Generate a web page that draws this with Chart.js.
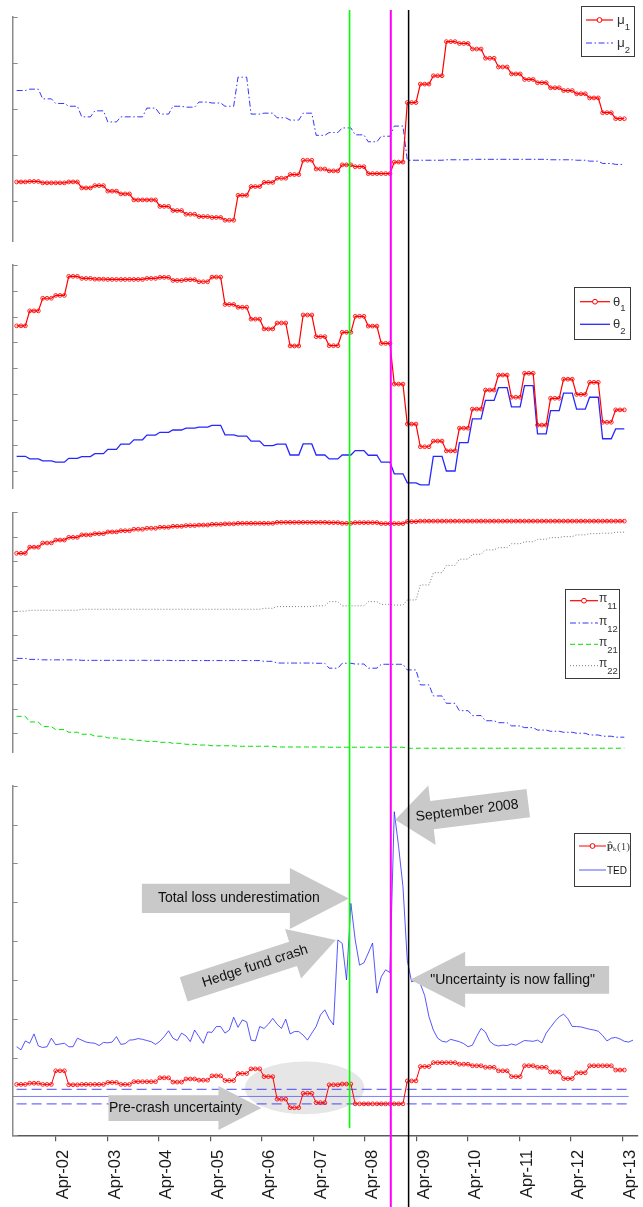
<!DOCTYPE html>
<html>
<head>
<meta charset="utf-8">
<script src="https://cdn.jsdelivr.net/npm/chart.js@4.4.1/dist/chart.umd.min.js"></script>
<style>
  html, body { margin: 0; padding: 0; background: #fff; }
  #wrap { position: relative; width: 643px; height: 1207px; overflow: hidden; background: #fff; }
  #wrap canvas { position: absolute; left: 0; }
</style>
</head>
<body>
<div id="wrap">
  <canvas id="c1" width="643" height="252" style="top:0px"></canvas>
  <canvas id="c2" width="643" height="246" style="top:252px"></canvas>
  <canvas id="c3" width="643" height="270" style="top:498px"></canvas>
  <canvas id="c4" width="643" height="439" style="top:768px"></canvas>
</div>
<script>
// ---------------- data (observation index on x) ----------------
const tickLabels = ['Apr-02','Apr-03','Apr-04','Apr-05','Apr-06','Apr-07','Apr-08','Apr-09','Apr-10','Apr-11','Apr-12','Apr-13'];
const tickPos = [8.98, 20.85, 32.72, 44.60, 56.47, 68.34, 80.21, 92.08, 103.96, 115.83, 127.70, 139.57];
// event markers: total loss underestimation, September 2008, uncertainty falling
const eventPos = [76.7, 86.2, 90.3];

const mu1 = [
  0.42,0.42,0.42, 0.43,0.43,0.43, 0.40,0.40,0.40, 0.40,0.40,0.40, 0.42,0.42,0.42, 0.29,0.29,0.29, 0.34,0.34,0.34, 0.22,0.22,0.22, 0.16,0.16,0.16, 0.03,0.03,0.03,
  0.03,0.03,0.03, -0.11,-0.11,-0.11, -0.20,-0.20,-0.20, -0.28,-0.28,-0.28, -0.33,-0.33,-0.33, -0.35,-0.35,-0.35, -0.41,-0.41,-0.41, 0.13,0.13,0.13, 0.32,0.32,0.32, 0.41,0.41,0.41,
  0.50,0.50,0.50, 0.58,0.58,0.58, 0.89,0.89,0.89, 0.70,0.70,0.70, 0.66,0.66,0.66, 0.79,0.79,0.79, 0.75,0.75,0.75, 0.60,0.60,0.60, 0.60,0.60,0.60, 0.85,0.85,0.85,
  2.14,2.14,2.14, 2.54,2.54,2.54, 2.72,2.72,2.72, 3.46,3.46,3.46, 3.42,3.42,3.42, 3.30,3.30,3.30, 3.10,3.10,3.10, 2.91,2.91,2.91, 2.76,2.76,2.76, 2.64,2.64,2.64,
  2.57,2.57,2.57, 2.46,2.46,2.46, 2.40,2.40,2.40, 2.33,2.33,2.33, 2.24,2.24,2.24, 1.92,1.92,1.92, 1.79,1.79,1.79
];
const mu2 = [
  2.40,2.40,2.40, 2.43,2.43,2.43, 2.22,2.22,2.22, 2.12,2.12,2.12, 2.06,2.06,2.06, 1.83,1.83,1.83, 1.96,1.96,1.96, 1.72,1.72,1.72, 1.83,1.83,1.83, 1.83,1.83,1.83,
  2.02,2.02,2.02, 1.89,1.89,1.89, 2.06,2.06,2.06, 2.04,2.04,2.04, 2.15,2.15,2.15, 2.13,2.13,2.13, 2.06,2.06,2.06, 2.69,2.69,2.69, 1.89,1.89,1.89, 1.91,1.91,1.91,
  1.81,1.81,1.81, 1.76,1.76,1.76, 1.91,1.91,1.91, 1.43,1.43,1.43, 1.49,1.49,1.49, 1.59,1.59,1.59, 1.44,1.44,1.44, 1.29,1.29,1.29, 1.41,1.41,1.41, 1.63,1.63,1.63,
  0.89,0.89,0.89, 0.89,0.89,0.89, 0.89,0.89,0.89, 0.90,0.90,0.90, 0.90,0.90,0.90, 0.91,0.91,0.91, 0.91,0.91,0.91, 0.91,0.91,0.91, 0.91,0.91,0.91, 0.91,0.91,0.91,
  0.91,0.91,0.91, 0.90,0.90,0.90, 0.90,0.90,0.90, 0.89,0.89,0.89, 0.87,0.87,0.87, 0.82,0.82,0.82, 0.80,0.80,0.80
];
const theta1 = [
  5.64,5.64,5.64, 6.22,6.22,6.22, 6.71,6.71,6.71, 6.82,6.82,6.82, 7.56,7.56,7.56, 7.48,7.48,7.48, 7.45,7.45,7.45, 7.44,7.44,7.44, 7.44,7.44,7.44, 7.44,7.44,7.44,
  7.48,7.48,7.48, 7.52,7.52,7.52, 7.40,7.40,7.40, 7.43,7.43,7.43, 7.35,7.35,7.35, 7.53,7.53,7.53, 6.47,6.47,6.47, 6.36,6.36,6.36, 5.90,5.90,5.90, 5.52,5.52,5.52,
  5.75,5.75,5.75, 4.86,4.86,4.86, 6.06,6.06,6.06, 5.22,5.22,5.22, 4.87,4.87,4.87, 5.39,5.39,5.39, 6.01,6.01,6.01, 5.63,5.63,5.63, 4.96,4.96,4.96, 3.38,3.38,3.38,
  1.83,1.83,1.83, 0.95,0.95,0.95, 1.17,1.17,1.17, 0.79,0.79,0.79, 1.67,1.67,1.67, 2.41,2.41,2.41, 3.15,3.15,3.15, 3.73,3.73,3.73, 2.87,2.87,2.87, 3.80,3.80,3.80,
  1.79,1.79,1.79, 2.83,2.83,2.83, 3.57,3.57,3.57, 2.98,2.98,2.98, 3.45,3.45,3.45, 1.90,1.90,1.90, 2.38,2.38,2.38
];
const theta2 = [
  0.58,0.58,0.58, 0.48,0.48,0.48, 0.40,0.40,0.40, 0.35,0.35,0.35, 0.50,0.50,0.50, 0.57,0.57,0.57, 0.68,0.68,0.68, 0.85,0.85,0.85, 1.05,1.05,1.05, 1.22,1.22,1.22,
  1.40,1.40,1.40, 1.51,1.51,1.51, 1.60,1.60,1.60, 1.67,1.67,1.67, 1.71,1.71,1.71, 1.78,1.78,1.78, 1.41,1.41,1.41, 1.36,1.36,1.36, 1.17,1.17,1.17, 0.99,0.99,0.99,
  1.05,1.05,1.05, 0.63,0.63,0.63, 1.06,1.06,1.06, 0.63,0.63,0.63, 0.48,0.48,0.48, 0.63,0.63,0.63, 0.80,0.80,0.80, 0.62,0.62,0.62, 0.35,0.35,0.35, -0.10,-0.10,-0.10,
  -0.45,-0.45,-0.45, -0.53,-0.53,-0.53, 0.58,0.58,0.58, 0.01,0.01,0.01, 1.11,1.11,1.11, 2.03,2.03,2.03, 2.75,2.75,2.75, 3.24,3.24,3.24, 2.50,2.50,2.50, 3.32,3.32,3.32,
  1.45,1.45,1.45, 2.35,2.35,2.35, 3.03,3.03,3.03, 2.41,2.41,2.41, 2.87,2.87,2.87, 1.26,1.26,1.26, 1.64,1.64,1.64
];
const pi11 = [
  7.33,7.33,7.33, 7.58,7.58,7.58, 7.75,7.75,7.75, 7.87,7.87,7.87, 7.98,7.98,7.98, 8.08,8.08,8.08, 8.13,8.13,8.13, 8.20,8.20,8.20, 8.25,8.25,8.25, 8.31,8.31,8.31,
  8.35,8.35,8.35, 8.39,8.39,8.39, 8.43,8.43,8.43, 8.46,8.46,8.46, 8.48,8.48,8.48, 8.51,8.51,8.51, 8.53,8.53,8.53, 8.55,8.55,8.55, 8.55,8.55,8.55, 8.55,8.55,8.55,
  8.59,8.59,8.59, 8.59,8.59,8.59, 8.59,8.59,8.59, 8.59,8.59,8.59, 8.58,8.58,8.58, 8.55,8.55,8.55, 8.58,8.58,8.58, 8.58,8.58,8.58, 8.54,8.54,8.54, 8.54,8.54,8.54,
  8.62,8.62,8.62, 8.64,8.64,8.64, 8.64,8.64,8.64, 8.64,8.64,8.64, 8.64,8.64,8.64, 8.64,8.64,8.64, 8.64,8.64,8.64, 8.64,8.64,8.64, 8.64,8.64,8.64, 8.64,8.64,8.64,
  8.64,8.64,8.64, 8.64,8.64,8.64, 8.64,8.64,8.64, 8.64,8.64,8.64, 8.64,8.64,8.64, 8.64,8.64,8.64, 8.64,8.64,8.64
];
const pi12 = [
  3.05,3.05,3.05, 3.01,3.01,3.01, 2.99,2.99,2.99, 2.99,2.99,2.99, 2.99,2.99,2.99, 2.97,2.97,2.97, 2.97,2.97,2.97, 2.97,2.97,2.97, 2.97,2.97,2.97, 2.97,2.97,2.97,
  2.97,2.97,2.97, 2.97,2.97,2.97, 2.96,2.96,2.96, 2.96,2.96,2.96, 2.96,2.96,2.96, 2.96,2.96,2.96, 2.96,2.96,2.96, 2.96,2.96,2.96, 2.96,2.96,2.96, 2.93,2.93,2.93,
  2.86,2.86,2.86, 2.86,2.86,2.86, 2.86,2.86,2.86, 2.85,2.85,2.85, 2.65,2.65,2.65, 2.85,2.85,2.85, 2.82,2.82,2.82, 2.65,2.65,2.65, 2.81,2.81,2.81, 2.81,2.81,2.81,
  2.58,2.58,2.58, 1.97,1.97,1.97, 1.52,1.52,1.52, 1.22,1.22,1.22, 0.92,0.92,0.92, 0.72,0.72,0.72, 0.51,0.51,0.51, 0.43,0.43,0.43, 0.30,0.30,0.30, 0.23,0.23,0.23,
  0.13,0.13,0.13, 0.08,0.08,0.08, 0.04,0.04,0.04, 0.00,0.00,0.00, -0.07,-0.07,-0.07, -0.12,-0.12,-0.12, -0.16,-0.16,-0.16
];
const pi21 = [
  0.69,0.69,0.69, 0.46,0.46,0.46, 0.27,0.27,0.27, 0.15,0.15,0.15, 0.04,0.04,0.04, -0.04,-0.04,-0.04, -0.12,-0.12,-0.12, -0.19,-0.19,-0.19, -0.24,-0.24,-0.24, -0.29,-0.29,-0.29,
  -0.33,-0.33,-0.33, -0.37,-0.37,-0.37, -0.41,-0.41,-0.41, -0.45,-0.45,-0.45, -0.48,-0.48,-0.48, -0.51,-0.51,-0.51, -0.51,-0.51,-0.51, -0.53,-0.53,-0.53, -0.53,-0.53,-0.53, -0.53,-0.53,-0.53,
  -0.56,-0.56,-0.56, -0.56,-0.56,-0.56, -0.56,-0.56,-0.56, -0.56,-0.56,-0.56, -0.57,-0.57,-0.57, -0.57,-0.57,-0.57, -0.57,-0.57,-0.57, -0.57,-0.57,-0.57, -0.57,-0.57,-0.57, -0.57,-0.57,-0.57,
  -0.61,-0.61,-0.61, -0.61,-0.61,-0.61, -0.61,-0.61,-0.61, -0.61,-0.61,-0.61, -0.61,-0.61,-0.61, -0.61,-0.61,-0.61, -0.61,-0.61,-0.61, -0.61,-0.61,-0.61, -0.61,-0.61,-0.61, -0.61,-0.61,-0.61,
  -0.61,-0.61,-0.61, -0.61,-0.61,-0.61, -0.61,-0.61,-0.61, -0.61,-0.61,-0.61, -0.61,-0.61,-0.61, -0.61,-0.61,-0.61, -0.61,-0.61,-0.61
];
const pi22 = [
  4.97,4.97,4.97, 5.01,5.01,5.01, 5.01,5.01,5.01, 5.01,5.01,5.01, 5.01,5.01,5.01, 5.05,5.05,5.05, 5.05,5.05,5.05, 5.05,5.05,5.05, 5.05,5.05,5.05, 5.05,5.05,5.05,
  5.05,5.05,5.05, 5.05,5.05,5.05, 5.05,5.05,5.05, 5.05,5.05,5.05, 5.05,5.05,5.05, 5.05,5.05,5.05, 5.05,5.05,5.05, 5.05,5.05,5.05, 5.05,5.05,5.05, 5.09,5.09,5.09,
  5.16,5.16,5.16, 5.16,5.16,5.16, 5.16,5.16,5.16, 5.19,5.19,5.19, 5.36,5.36,5.36, 5.19,5.19,5.19, 5.19,5.19,5.19, 5.36,5.36,5.36, 5.25,5.25,5.25, 5.22,5.22,5.22,
  5.43,5.43,5.43, 6.04,6.04,6.04, 6.54,6.54,6.54, 6.84,6.84,6.84, 7.09,7.09,7.09, 7.29,7.29,7.29, 7.47,7.47,7.47, 7.56,7.56,7.56, 7.72,7.72,7.72, 7.80,7.80,7.80,
  7.90,7.90,7.90, 7.97,7.97,7.97, 8.01,8.01,8.01, 8.08,8.08,8.08, 8.13,8.13,8.13, 8.15,8.15,8.15, 8.19,8.19,8.19
];
const pHat = [
  1.31,1.31,1.31, 1.34,1.34,1.34, 1.31,1.31,1.31, 1.66,1.66,1.66, 1.30,1.30,1.30, 1.31,1.31,1.31, 1.31,1.31,1.31, 1.36,1.36,1.36, 1.31,1.31,1.31, 1.38,1.38,1.38,
  1.38,1.38,1.38, 1.48,1.48,1.48, 1.37,1.37,1.37, 1.45,1.45,1.45, 1.42,1.42,1.42, 1.53,1.53,1.53, 1.41,1.41,1.41, 1.59,1.59,1.59, 1.71,1.71,1.71, 1.51,1.51,1.51,
  0.93,0.93,0.93, 0.71,0.71,0.71, 1.08,1.08,1.08, 0.84,0.84,0.84, 1.30,1.30,1.30, 1.32,1.32,1.32, 0.81,0.81,0.81, 0.81,0.81,0.81, 0.81,0.81,0.81, 0.81,0.81,0.81,
  1.40,1.40,1.40, 1.77,1.77,1.77, 1.87,1.87,1.87, 1.87,1.87,1.87, 1.83,1.83,1.83, 1.79,1.79,1.79, 1.75,1.75,1.75, 1.66,1.66,1.66, 1.51,1.51,1.51, 1.79,1.79,1.79,
  1.75,1.75,1.75, 1.63,1.63,1.63, 1.46,1.46,1.46, 1.61,1.61,1.61, 1.79,1.79,1.79, 1.79,1.79,1.79, 1.68,1.68,1.68
];
const ted = [
  2.28, 2.20, 2.43, 2.37, 2.61, 2.30, 2.26, 2.28, 2.50, 2.33,
  2.35, 2.37, 2.28, 2.28, 2.50, 2.45, 2.40, 2.38, 2.37, 2.31,
  2.39, 2.38, 2.40, 2.54, 2.34, 2.36, 2.45, 2.46, 2.49, 2.47,
  2.44, 2.41, 2.34, 2.42, 2.54, 2.69, 2.50, 2.44, 2.63, 2.56,
  2.41, 2.71, 2.54, 2.37, 2.66, 2.65, 2.80, 2.80, 2.63, 2.71,
  3.04, 2.78, 2.97, 2.92, 2.45, 2.43, 2.80, 2.75, 2.86, 3.01,
  2.86, 2.75, 2.99, 2.61, 2.67, 2.67, 2.58, 2.45, 2.63, 2.80,
  3.10, 3.23, 3.00, 2.84, 5.03, 4.94, 4.00, 5.97, 5.03, 4.38,
  4.44, 4.69, 4.95, 3.66, 4.08, 4.26, 4.19, 8.33, 7.43, 6.40,
  4.50, 3.95, 4.00, 3.90, 3.60, 3.05, 2.71, 2.50, 2.42, 2.40,
  2.47, 2.44, 2.41, 2.36, 2.28, 2.32, 2.55, 2.75, 2.66, 2.42,
  2.33, 2.30, 2.32, 2.31, 2.35, 2.32, 2.38, 2.44, 2.43, 2.42,
  2.45, 2.38, 2.63, 2.78, 2.93, 3.05, 3.12, 3.00, 2.80, 2.80,
  2.79, 2.76, 2.73, 2.71, 2.68, 2.57, 2.43, 2.50, 2.52, 2.48,
  2.42, 2.40, 2.45
];
// reference band around the neutral probability level
const bandLevels = [1.18, 1.00, 0.81];
const bandSpan = [0, 141];

const yTicks1 = [0, 1, 2, 3, 4];
const yTicks2 = [0, 1, 2, 3, 4, 5, 6, 7, 8];
const yTicks3 = [0, 1, 2, 3, 4, 5, 6, 7, 8, 9];
const yTicks4 = [0, 1, 2, 3, 4, 5, 6, 7, 8, 9];

// ---------------- styling ----------------
const FONT = '"Liberation Sans", Arial, Helvetica, sans-serif';
const SERIF = '"Liberation Serif", "DejaVu Serif", serif';
const X_MIN = -0.91, X_MAX = 143.15;
const AXIS_GREY = '#8c8c8c';
const RED = '#ff0000';
const DASHDOT = [6, 2.5, 1.5, 2.5];
const EVENT_STYLE = [
  { color: '#00ff00', width: 1.6, from: 10, to: 1128 },
  { color: '#ff00ff', width: 2.0, from: 10, to: 1207 },
  { color: '#000000', width: 1.5, from: 10, to: 1207 }
];
Chart.defaults.font.family = FONT;

const xy = arr => arr.map((v, i) => ({ x: i, y: v }));

function markerSeries(label, values, width) {
  return {
    label, data: xy(values), borderColor: RED, borderWidth: width, tension: 0,
    pointStyle: 'circle', pointRadius: 1.9, pointBorderWidth: 1,
    pointBorderColor: 'rgba(255,0,0,0.85)', pointBackgroundColor: 'rgba(255,255,255,0)'
  };
}
function plainSeries(label, values, color, width, dash) {
  return { label, data: xy(values), borderColor: color, borderWidth: width, borderDash: dash || [], pointRadius: 0, tension: 0 };
}

// ---------------- drawing helpers ----------------
function drawLegend(chart, L) {
  const ctx = chart.ctx;
  const [x0, y0, x1, y1] = L.box;
  ctx.save();
  ctx.fillStyle = '#ffffff';
  ctx.fillRect(x0, y0, x1 - x0, y1 - y0);
  ctx.strokeStyle = '#3a3a3a';
  ctx.lineWidth = 1;
  ctx.strokeRect(Math.round(x0) + 0.5, Math.round(y0) + 0.5, Math.round(x1 - x0), Math.round(y1 - y0));
  L.items.forEach(it => {
    const ds = chart.data.datasets[it.ds];
    ctx.save();
    ctx.strokeStyle = ds.borderColor;
    ctx.lineWidth = ds.borderWidth;
    ctx.setLineDash(ds.borderDash || []);
    ctx.beginPath();
    ctx.moveTo(L.line[0], it.y);
    ctx.lineTo(L.line[1], it.y);
    ctx.stroke();
    ctx.setLineDash([]);
    if (ds.pointRadius > 0) {
      ctx.beginPath();
      ctx.arc((L.line[0] + L.line[1]) / 2, it.y, ds.pointRadius + 0.5, 0, Math.PI * 2);
      ctx.fillStyle = '#ffffff';
      ctx.fill();
      ctx.lineWidth = 1;
      ctx.strokeStyle = RED;
      ctx.stroke();
    }
    ctx.restore();
    let tx = L.textX;
    ctx.textAlign = 'left';
    ctx.textBaseline = 'alphabetic';
    it.parts.forEach(p => {
      ctx.font = p.font;
      ctx.fillStyle = p.color || L.color;
      ctx.fillText(p.t, tx, it.y + p.dy);
      tx += ctx.measureText(p.t).width + (p.gap || 0);
    });
  });
  ctx.restore();
}

function anchorPixel(chart, at) {
  const { x, y } = chart.scales;
  let vx, vy;
  if (at.ds !== undefined) {
    const pt = chart.data.datasets[at.ds].data[at.i];
    vx = pt.x; vy = pt.y;
  } else { vx = at.x; vy = at.y; }
  return [x.getPixelForValue(vx) + (at.dx || 0), y.getPixelForValue(vy) + (at.dy || 0)];
}

function drawArrow(chart, a) {
  const ctx = chart.ctx;
  const [tx, ty] = anchorPixel(chart, a.at);
  const ang = a.angle * Math.PI / 180;
  ctx.save();
  ctx.translate(tx, ty);
  ctx.rotate(ang);
  ctx.beginPath();
  ctx.moveTo(0, 0);
  ctx.lineTo(-a.head, -a.headHalf);
  ctx.lineTo(-a.head, -a.bodyHalf);
  ctx.lineTo(-a.head - a.body, -a.bodyHalf);
  ctx.lineTo(-a.head - a.body, a.bodyHalf);
  ctx.lineTo(-a.head, a.bodyHalf);
  ctx.lineTo(-a.head, a.headHalf);
  ctx.closePath();
  ctx.fillStyle = '#c9c9c9';
  ctx.fill();
  ctx.restore();
  const cx = tx - a.textDist * Math.cos(ang);
  const cy = ty - a.textDist * Math.sin(ang);
  let tAng = a.angle;
  if (tAng > 90 && tAng < 270) tAng -= 180;
  ctx.save();
  ctx.translate(cx, cy);
  ctx.rotate(tAng * Math.PI / 180);
  ctx.font = `14px ${FONT}`;
  ctx.fillStyle = '#111111';
  ctx.textAlign = 'center';
  ctx.textBaseline = 'middle';
  ctx.fillText(a.text, 0, 0);
  ctx.restore();
}

const panelDecor = {
  id: 'panelDecor',
  beforeDatasetsDraw(chart, args, o) {
    if (!o.ellipse) return;
    const { ctx, scales: { x, y } } = chart;
    const e = o.ellipse;
    ctx.save();
    ctx.fillStyle = 'rgba(205,205,205,0.5)';
    ctx.beginPath();
    ctx.ellipse(x.getPixelForValue(e.cx), y.getPixelForValue(e.cy), e.rx, e.ry, 0, 0, Math.PI * 2);
    ctx.fill();
    ctx.restore();
  },
  afterDatasetsDraw(chart, args, o) {
    (o.arrows || []).forEach(a => drawArrow(chart, a));
  },
  afterDraw(chart, args, o) {
    const { ctx, chartArea, scales: { x, y } } = chart;
    // inward tick marks on the left axis
    ctx.save();
    ctx.strokeStyle = AXIS_GREY;
    ctx.lineWidth = 1;
    o.yTicks.forEach(v => {
      const py = Math.round(y.getPixelForValue(v)) + 0.5;
      ctx.beginPath();
      ctx.moveTo(chartArea.left, py);
      ctx.lineTo(chartArea.left + 5, py);
      ctx.stroke();
    });
    ctx.restore();
    // event markers running through all panels
    eventPos.forEach((v, j) => {
      const st = EVENT_STYLE[j];
      const px = x.getPixelForValue(v);
      const y0 = Math.max(0, st.from - o.pageTop);
      const y1 = Math.min(chart.height, st.to - o.pageTop);
      if (y1 <= y0) return;
      ctx.save();
      ctx.strokeStyle = st.color;
      ctx.lineWidth = st.width;
      ctx.beginPath();
      ctx.moveTo(px, y0);
      ctx.lineTo(px, y1);
      ctx.stroke();
      ctx.restore();
    });
    if (o.legend) drawLegend(chart, o.legend);
  }
};

function panel(id, cfg) {
  const xScale = cfg.showX ? {
    type: 'linear', min: X_MIN, max: X_MAX, position: 'bottom',
    afterBuildTicks: s => { s.ticks = tickPos.map(v => ({ value: v })); },
    afterFit: s => { s.height = cfg.xAxisHeight; s.paddingLeft = 0; s.paddingRight = 0; },
    ticks: {
      autoSkip: false, minRotation: 90, maxRotation: 90, padding: 8.5, labelOffset: 8,
      color: '#1a1a1a', font: { family: FONT, size: 16.5 },
      callback: (v, i) => tickLabels[i]
    },
    grid: { display: true, drawOnChartArea: false, drawTicks: true, tickLength: 6, color: '#5a5a5a', lineWidth: 1.2 },
    border: { display: true, color: '#5a5a5a', width: 1.6 }
  } : { type: 'linear', min: X_MIN, max: X_MAX, display: false };

  return new Chart(document.getElementById(id), {
    type: 'line',
    data: { datasets: cfg.datasets },
    options: {
      responsive: false, animation: false, devicePixelRatio: 1, events: [],
      layout: { padding: { left: 12.7, right: 0, top: cfg.padTop, bottom: cfg.padBottom } },
      plugins: {
        legend: { display: false }, tooltip: { enabled: false },
        panelDecor: { pageTop: cfg.pageTop, yTicks: cfg.yTicks, legend: cfg.legend, arrows: cfg.arrows, ellipse: cfg.ellipse }
      },
      scales: {
        x: xScale,
        y: {
          type: 'linear', min: cfg.yMin, max: cfg.yMax,
          afterBuildTicks: s => { s.ticks = cfg.yTicks.map(v => ({ value: v })); },
          afterFit: s => { s.width = 0; },
          ticks: { display: false },
          grid: { display: false },
          border: { display: true, color: AXIS_GREY, width: 1.5 }
        }
      }
    },
    plugins: [panelDecor]
  });
}

const legendColor = '#333333';

// ---- panel 1: regime means ----
panel('c1', {
  pageTop: 0, padTop: 16.7, padBottom: 10.3, yMin: -0.875, yMax: 4, yTicks: yTicks1,
  datasets: [
    markerSeries('μ1', mu1, 1.2),
    plainSeries('μ2', mu2, 'rgba(0,0,255,0.8)', 1, DASHDOT)
  ],
  legend: {
    box: [581, 6, 634, 56], line: [586, 613], textX: 617, color: legendColor,
    items: [
      { ds: 0, y: 20, parts: [{ t: 'μ', font: `13.5px ${FONT}`, dy: 4 }, { t: '1', font: `9.5px ${FONT}`, dy: 9.5 }] },
      { ds: 1, y: 43, parts: [{ t: 'μ', font: `13.5px ${FONT}`, dy: 4 }, { t: '2', font: `9.5px ${FONT}`, dy: 9.5 }] }
    ]
  }
});

// ---- panel 2: regime volatilities ----
panel('c2', {
  pageTop: 252, padTop: 13, padBottom: 10, yMin: -0.65, yMax: 8, yTicks: yTicks2,
  datasets: [
    markerSeries('θ1', theta1, 1.2),
    plainSeries('θ2', theta2, 'rgba(0,0,255,0.85)', 1.3)
  ],
  legend: {
    box: [574, 35.3, 630, 87.3], line: [580, 610], textX: 613, color: legendColor,
    items: [
      { ds: 0, y: 49.7, parts: [{ t: 'θ', font: `13px ${FONT}`, dy: 4 }, { t: '1', font: `9.5px ${FONT}`, dy: 9.5 }] },
      { ds: 1, y: 72.3, parts: [{ t: 'θ', font: `13px ${FONT}`, dy: 4 }, { t: '2', font: `9.5px ${FONT}`, dy: 9.5 }] }
    ]
  }
});

// ---- panel 3: transition probabilities ----
panel('c3', {
  pageTop: 498, padTop: 14.3, padBottom: 15.1, yMin: -0.8, yMax: 9, yTicks: yTicks3,
  datasets: [
    markerSeries('π11', pi11, 1.2),
    plainSeries('π12', pi12, 'rgba(0,0,255,0.8)', 1, DASHDOT),
    plainSeries('π21', pi21, '#00e000', 1, [5, 3]),
    plainSeries('π22', pi22, '#7a7a7a', 1, [1, 2])
  ],
  legend: {
    box: [565, 91.3, 619.3, 180.3], line: [570, 598], textX: 599, color: legendColor,
    items: [
      { ds: 0, y: 102.7, parts: [{ t: 'π', font: `12px ${FONT}`, dy: 1.5 }, { t: '11', font: `9.5px ${FONT}`, dy: 8.5 }] },
      { ds: 1, y: 125, parts: [{ t: 'π', font: `12px ${FONT}`, dy: 1.5 }, { t: '12', font: `9.5px ${FONT}`, dy: 8.5 }] },
      { ds: 2, y: 146.3, parts: [{ t: 'π', font: `12px ${FONT}`, dy: 1.5 }, { t: '21', font: `9.5px ${FONT}`, dy: 8.5 }] },
      { ds: 3, y: 167.7, parts: [{ t: 'π', font: `12px ${FONT}`, dy: 1.5 }, { t: '22', font: `9.5px ${FONT}`, dy: 8.5 }] }
    ]
  }
});

// ---- panel 4: estimated probability vs TED spread ----
const bandSets = bandLevels.map((lv, j) => ({
  label: 'band' + j,
  data: [{ x: bandSpan[0], y: lv }, { x: bandSpan[1], y: lv }],
  borderColor: j === 1 ? 'rgba(70,70,255,0.7)' : 'rgba(60,60,255,0.75)',
  borderWidth: j === 1 ? 1 : 1.2,
  borderDash: j === 1 ? [] : [10, 5],
  pointRadius: 0, tension: 0
}));

panel('c4', {
  pageTop: 768, padTop: 17.7, padBottom: 0, yMin: 0, yMax: 9, yTicks: yTicks4,
  showX: true, xAxisHeight: 71.7,
  datasets: [
    markerSeries('p̂k(1)', pHat, 1),
    plainSeries('TED', ted, 'rgba(30,30,255,0.75)', 1)
  ].concat(bandSets),
  ellipse: { cx: 66.35, cy: 1.22, rx: 59.7, ry: 26.3 },
  arrows: [
    { text: 'Total loss underestimation', at: { ds: 1, i: 77, dx: -2, dy: -5 }, angle: 0, head: 59, headHalf: 30.5, bodyHalf: 14.7, body: 148, textDist: 110 },
    { text: 'Hedge fund crash', at: { ds: 1, i: 74, dx: -2, dy: 0 }, angle: -18, head: 45, headHalf: 26, bodyHalf: 12.7, body: 115, textDist: 85 },
    { text: 'September 2008', at: { ds: 1, i: 87, dx: 1, dy: 8 }, angle: 172.9, head: 37, headHalf: 30, bodyHalf: 14.2, body: 97, textDist: 72.5 },
    { text: '"Uncertainty is now falling"', at: { ds: 1, i: 91, dx: -1.5, dy: -2 }, angle: 180, head: 55, headHalf: 28, bodyHalf: 13.9, body: 144, textDist: 102.5 },
    { text: 'Pre-crash uncertainty', at: { x: 56.4, y: 0.70 }, angle: 0, head: 43, headHalf: 22, bodyHalf: 12.8, body: 110, textDist: 86 }
  ],
  legend: {
    box: [574, 64.7, 630, 117.3], line: [579, 606], textX: 607, color: '#444444',
    items: [
      { ds: 0, y: 78, parts: [
        { t: 'p\u0302', font: `bold 11px ${SERIF}`, dy: 2.5 },
        { t: 'k', font: `7px ${SERIF}`, dy: 4.5, gap: 0.5 },
        { t: '(1)', font: `11px ${SERIF}`, dy: 3.5 }
      ] },
      { ds: 1, y: 102, parts: [{ t: 'TED', font: `10px ${FONT}`, dy: 3.5, color: '#111111' }] }
    ]
  }
});
</script>
</body>
</html>
